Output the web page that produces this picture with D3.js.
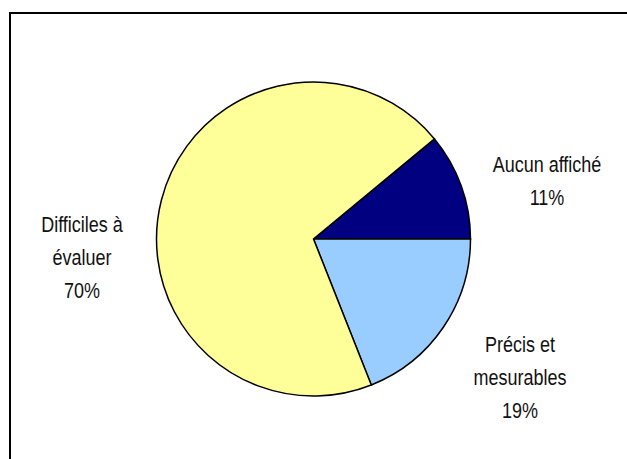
<!DOCTYPE html>
<html><head><meta charset="utf-8">
<script src="https://cdn.jsdelivr.net/npm/d3@7"></script>
<style>html,body{margin:0;padding:0;background:#fff;overflow:hidden}</style>
</head><body>
<svg id="c" width="627" height="459"></svg>
<script>
const categories = ["Aucun affiché", "Précis et mesurables", "Difficiles à évaluer"];
const values = [11, 19, 70];
const colors = ["#000080", "#99CCFF", "#FFFF99"];
const labelLines = [["Aucun affiché", "11%"], ["Précis et", "mesurables", "19%"], ["Difficiles à", "évaluer", "70%"]];

const svg = d3.select("#c");
svg.append("rect").attr("x", 10).attr("y", 13).attr("width", 640).attr("height", 460)
  .attr("fill", "#fff").attr("stroke", "#000").attr("stroke-width", 2);

const cx = 313.5, cy = 239, r = 157;
const start = Math.PI / 2 - values[0] / 100 * 2 * Math.PI;
const pie = d3.pie().sort(null).value(d => d).startAngle(start).endAngle(start + 2 * Math.PI);
const arcs = pie(values);
const arc = d3.arc().innerRadius(0).outerRadius(r);
const g = svg.append("g").attr("transform", `translate(${cx},${cy})`);
g.selectAll("path").data(arcs).join("path")
  .attr("d", arc).attr("fill", (d, i) => colors[i])
  .attr("stroke", "#000").attr("stroke-width", 1.5).attr("stroke-linejoin", "miter");

const labelPos = [[547, 172], [520, 352], [82, 232]];
const lineH = 33;
labelLines.forEach((lines, i) => {
  lines.forEach((s, j) => {
    svg.append("text").attr("text-anchor", "middle")
      .attr("transform", `translate(${labelPos[i][0]},${labelPos[i][1] + j * lineH}) scale(1,1.2)`)
      .attr("font-family", "Liberation Sans, Arial, sans-serif").attr("font-size", 18).attr("fill", "#111")
      .text(s);
  });
});
</script>
</body></html>
